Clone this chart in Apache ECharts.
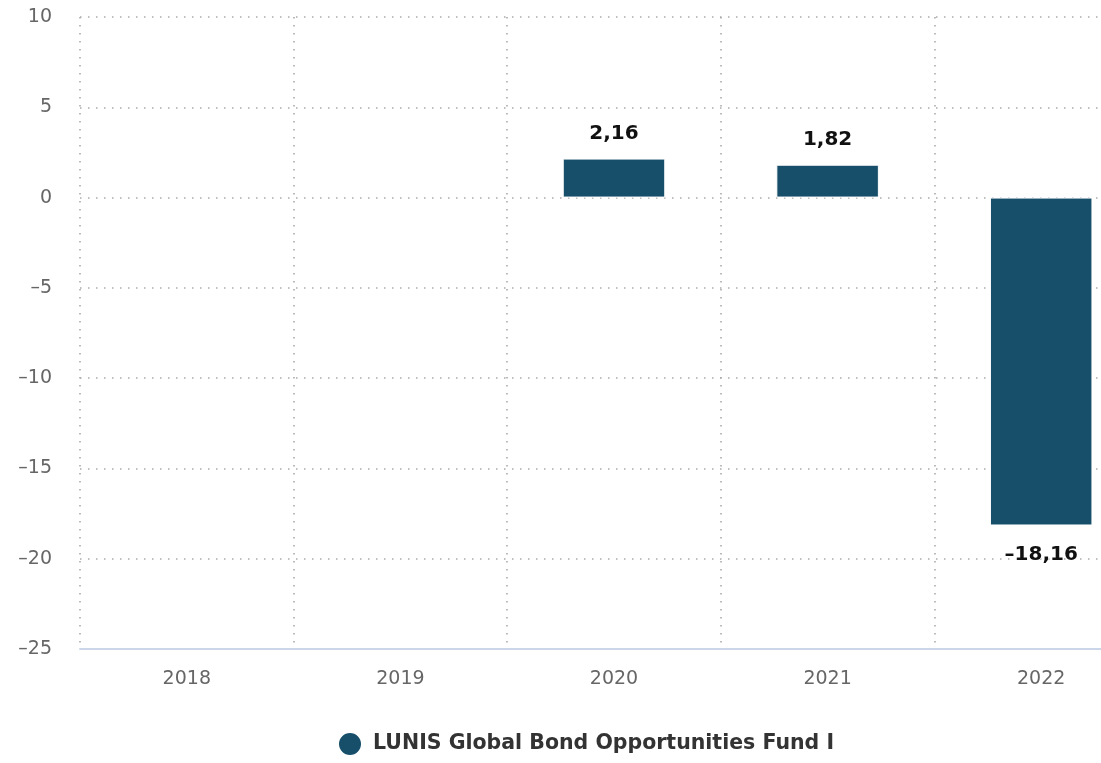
<!DOCTYPE html>
<html>
<head>
<meta charset="utf-8">
<script src="https://cdn.jsdelivr.net/npm/echarts@6/dist/echarts.min.js"></script>
<style>
  html, body { margin: 0; padding: 0; background: #fff; overflow: hidden; }
  /* plot area runs past the right edge of the window, as in the reference crop */
  #chart { width: 1148px; height: 763px; }
</style>
</head>
<body>
<div id="chart"></div>
<script>
const years = ['2018', '2019', '2020', '2021', '2022'];
const fundValues = [null, null, 2.16, 1.82, -18.16];
const seriesName = 'LUNIS Global Bond Opportunities Fund I';

const chart = echarts.init(document.getElementById('chart'));

const fmt = (v) => v.toFixed(2).replace('.', ',').replace('-', '\u2013');
const dots = { color: '#aaaaaa', type: [1.5, 6.5], width: 1.6 };

const option = {
  animation: false,
  textStyle: { fontFamily: '"DejaVu Sans", Verdana, sans-serif' },
  grid: { left: 80, right: 0, top: 17, bottom: 114 },
  legend: {
    bottom: 1,
    left: 332,
    icon: 'circle',
    itemWidth: 24,
    itemHeight: 24,
    itemGap: 10,
    textStyle: { fontSize: 20.5, color: '#333', fontWeight: 'bold', padding: [0, 0, 0, 6] },
    data: [seriesName]
  },
  xAxis: {
    type: 'category',
    data: years,
    axisLine: { onZero: false, lineStyle: { color: '#ccd6eb', width: 2 } },
    axisTick: { show: false },
    axisLabel: { color: '#666', fontSize: 19, margin: 21 },
    splitLine: { show: true, lineStyle: dots }
  },
  yAxis: {
    type: 'value',
    min: -25,
    max: 10,
    interval: 5,
    axisLine: { show: false },
    axisTick: { show: false },
    axisLabel: {
      color: '#666',
      fontSize: 19,
      margin: 28,
      formatter: (v) => String(v).replace('-', '\u2013')
    },
    splitLine: { lineStyle: dots }
  },
  series: [{
    name: seriesName,
    type: 'bar',
    data: fundValues.map((v) =>
      v !== null && v < 0 ? { value: v, label: { position: 'bottom', distance: 19 } } : v
    ),
    barWidth: '48%',
    itemStyle: { color: '#174f6b', borderColor: '#ffffff', borderWidth: 1 },
    label: {
      show: true,
      position: 'top',
      distance: 15,
      fontSize: 20,
      fontWeight: 'bold',
      color: '#111',
      textBorderColor: '#fff',
      textBorderWidth: 1,
      formatter: (p) => fmt(p.value)
    }
  }]
};

chart.setOption(option);
</script>
</body>
</html>
